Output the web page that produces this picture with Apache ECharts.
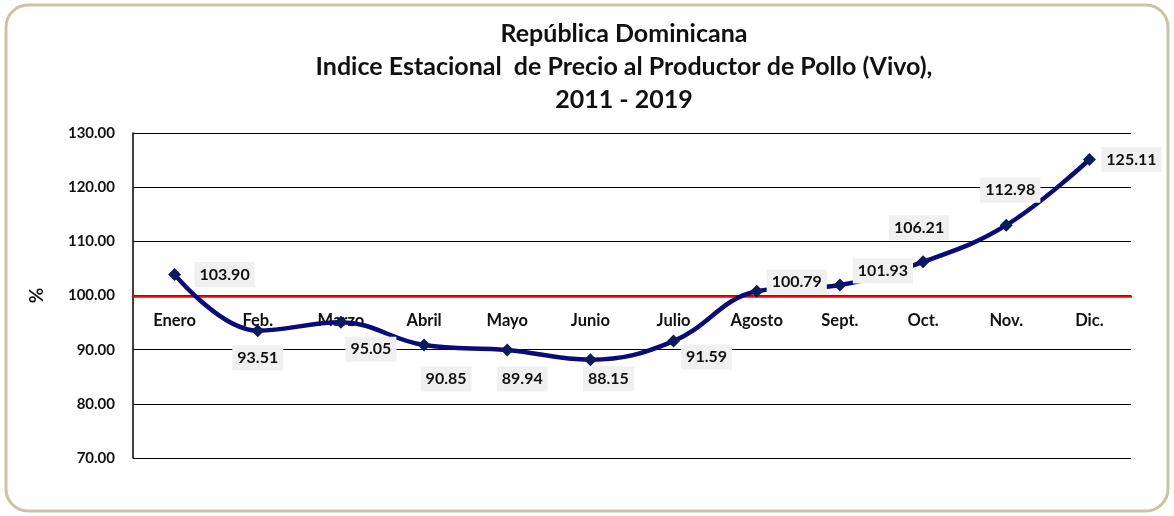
<!DOCTYPE html>
<html>
<head>
<meta charset="utf-8">
<title>Indice Estacional Pollo</title>
<script src="https://cdn.jsdelivr.net/npm/echarts@6/dist/echarts.min.js"></script>
<style>
  html, body { margin: 0; padding: 0; background: #fff; }
  #chart { width: 1174px; height: 516px; }
</style>
</head>
<body>
<div id="chart"></div>
<script>
  // datos
  const meses = ['Enero', 'Feb.', 'Marzo', 'Abril', 'Mayo', 'Junio', 'Julio', 'Agosto', 'Sept.', 'Oct.', 'Nov.', 'Dic.'];
  const indice = [103.90, 93.51, 95.05, 90.85, 89.94, 88.15, 91.59, 100.79, 101.93, 106.21, 112.98, 125.11];
  const yMin = 70, yMax = 130, yStep = 10;

  // desplazamiento de cada etiqueta respecto a su punto (px)
  const labelOffsets = [
    [50, 0], [0, 27], [30, 27], [22, 34], [15, 29], [18, 19],
    [33, 16], [40, -9], [43, -14], [-4, -34], [4, -35], [42, 0]
  ];

  const font = 'Lato, "Open Sans", sans-serif';
  const chart = echarts.init(document.getElementById('chart'));

  const option = {
    backgroundColor: '#fff',
    animation: false,
    graphic: [{
      type: 'rect',
      shape: { x: 6, y: 5, width: 1162, height: 506, r: 22 },
      style: { fill: 'none', stroke: '#c9c4a2', lineWidth: 3 },
      z: 0
    }],
    title: {
      text: 'República Dominicana\nIndice Estacional  de Precio al Productor de Pollo (Vivo),\n2011 - 2019',
      left: 619,
      textAlign: 'center',
      top: 12,
      textStyle: { fontFamily: font, fontWeight: 'bold', fontSize: 25, color: '#111', lineHeight: 33 }
    },
    grid: { left: 133, right: 43, top: 133, bottom: 58, containLabel: false },
    xAxis: {
      type: 'category',
      data: meses,
      boundaryGap: true,
      offset: -162,
      axisLine: { show: true, lineStyle: { color: '#ff0000', width: 2.5 } },
      axisTick: { show: false },
      axisLabel: { margin: 16, fontFamily: font, fontWeight: 'bold', fontSize: 16.5, color: '#111' },
      splitLine: { show: false }
    },
    yAxis: {
      type: 'value',
      min: yMin,
      max: yMax,
      interval: yStep,
      name: '%',
      nameLocation: 'middle',
      nameGap: 87,
      nameRotate: 90,
      nameTextStyle: { fontFamily: font, fontWeight: 'bold', fontSize: 19, color: '#111' },
      axisLine: { show: true, lineStyle: { color: '#000', width: 1.5 } },
      axisTick: { show: false },
      axisLabel: {
        margin: 18, fontFamily: font, fontWeight: 'bold', fontSize: 15, color: '#111',
        formatter: v => v.toFixed(2)
      },
      splitLine: { show: true, lineStyle: { color: '#000', width: 1.2 } }
    },
    series: [{
      type: 'line',
      data: indice.map((v, i) => ({
        value: v,
        label: { position: 'inside', offset: labelOffsets[i] }
      })),
      smooth: 0.4,
      symbol: 'diamond',
      symbolSize: 13,
      lineStyle: { color: '#0a0a78', width: 4.5 },
      itemStyle: { color: '#0d1a5e' },
      label: {
        show: true,
        formatter: p => p.value.toFixed(2),
        fontFamily: font,
        fontWeight: 'bold',
        fontSize: 16,
        color: '#111',
        backgroundColor: '#f0f0f0',
        padding: [5, 5, 4, 5]
      },
      z: 3
    }]
  };

  chart.setOption(option);
  window.addEventListener('resize', function () { chart.resize(); });
</script>
</body>
</html>
